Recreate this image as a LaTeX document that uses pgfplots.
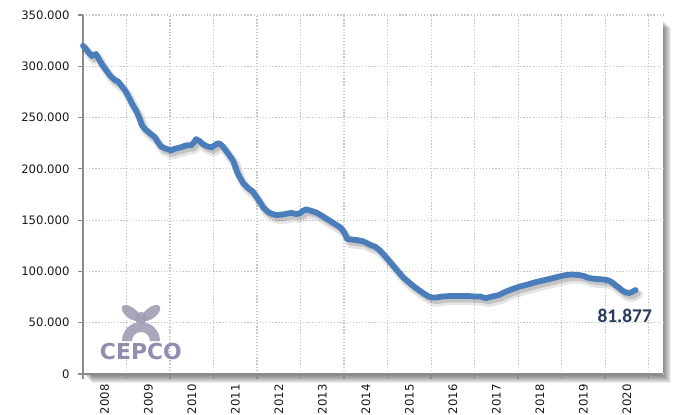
\documentclass[border=0pt]{standalone}
\usepackage{pgfplots}
\pgfplotsset{compat=1.18}
\usepackage{pgfplotstable}
\usepackage{fontspec}
\setmainfont{DejaVu Sans}
\newfontfamily\carlito{Carlito}
\definecolor{lineblue}{RGB}{74,126,187}
\definecolor{navy}{RGB}{38,60,94}
\definecolor{axgray}{RGB}{140,140,140}
\definecolor{gridgray}{RGB}{200,200,200}
\definecolor{logo}{RGB}{125,122,160}
\definecolor{logolight}{RGB}{160,158,180}

\pgfplotstableread{
x y
2008.00 320000
2008.05 318000
2008.12 314000
2008.20 310000
2008.24 311000
2008.30 312000
2008.39 305000
2008.50 298000
2008.62 291000
2008.72 287000
2008.81 285000
2008.90 280000
2008.96 277000
2009.05 270000
2009.12 264000
2009.23 256000
2009.30 249000
2009.35 243000
2009.42 239000
2009.50 236000
2009.65 231000
2009.72 226000
2009.80 221500
2009.92 219500
2010.03 218000
2010.10 219500
2010.15 220000
2010.25 221000
2010.38 223000
2010.49 223000
2010.55 226000
2010.60 229000
2010.68 227000
2010.76 224000
2010.85 222000
2010.95 221000
2011.03 223000
2011.10 225000
2011.16 224000
2011.22 221500
2011.35 214000
2011.45 208000
2011.55 196000
2011.68 186000
2011.80 181000
2011.90 178000
2011.98 173000
2012.06 168000
2012.15 162000
2012.25 158000
2012.35 156000
2012.44 155000
2012.60 155500
2012.70 156500
2012.79 157000
2012.90 156000
2012.98 156500
2013.05 159000
2013.13 160500
2013.25 159000
2013.36 157500
2013.50 154000
2013.67 149500
2013.80 146000
2013.93 142500
2014.00 138000
2014.08 131500
2014.20 131000
2014.30 130500
2014.43 129500
2014.60 126000
2014.72 124000
2014.81 121000
2014.92 116000
2015.04 110000
2015.20 102000
2015.35 94500
2015.50 89000
2015.60 85500
2015.73 81500
2015.85 78000
2015.95 75500
2016.03 74500
2016.11 74500
2016.25 75500
2016.42 76000
2016.60 76000
2016.75 76000
2016.88 76000
2017.00 75500
2017.14 75500
2017.20 74500
2017.26 74000
2017.40 75500
2017.56 77000
2017.70 80000
2017.85 82500
2018.02 85000
2018.20 87000
2018.40 89500
2018.60 91500
2018.80 93500
2018.94 95000
2019.10 96500
2019.25 97000
2019.40 96500
2019.51 95500
2019.60 94000
2019.71 93000
2019.85 92500
2020.00 92000
2020.09 91000
2020.17 89000
2020.24 86500
2020.32 84000
2020.39 81500
2020.48 79500
2020.55 79000
2020.62 80000
2020.70 81877
}\datatable

\begin{document}
\begin{tikzpicture}[x=1bp,y=1bp]
\useasboundingbox (-83,-40) rectangle (591,374);
% shadow of plot area
\foreach \d in {1,...,8}{
  \fill[black, opacity=0.07] (\d+1,-\d-1) rectangle (580+\d,359-5-\d);
}
\begin{axis}[
  at={(0,0)}, anchor=south west,
  scale only axis, width=580bp, height=359bp,
  xmin=2008, xmax=2021.33, ymin=0, ymax=350000,
  axis x line*=bottom, axis y line*=left,
  axis line style={draw=axgray, line width=1.8bp},
  axis background/.style={fill=white},
  xtick={2008,2009,...,2021}, xticklabels={},
  extra x ticks={2008.5,2009.5,2010.5,2011.5,2012.5,2013.5,2014.5,2015.5,2016.5,2017.5,2018.5,2019.5,2020.5},
  extra x tick labels={2008,2009,2010,2011,2012,2013,2014,2015,2016,2017,2018,2019,2020},
  extra x tick style={major tick length=0pt, grid=none,
     tick label style={rotate=90, anchor=east, xshift=-7bp}},
  ytick={0,50000,...,350000},
  yticklabels={0,50.000,100.000,150.000,200.000,250.000,300.000,350.000},
  scaled y ticks=false,
  tick label style={font=\fontsize{11.7}{13}\selectfont, text=black!90},
  yticklabel style={xshift=-5bp},
  tick align=outside, major tick length=5bp,
  tick style={draw=axgray, line width=1.2bp},
  grid=major,
  major grid style={draw=gridgray, line width=1.1bp, dash pattern=on 1.3bp off 1.8bp},
  clip=false,
]
% logo (decoration)
\node[font=\bfseries\fontsize{22}{24}\selectfont, text=logo, opacity=0.85, inner sep=0pt]
  at (axis cs:2009.33,21500) {CEPCO};
% line shadow
\addplot[black, opacity=0.10, line width=9bp, line join=round, line cap=round,
  transform canvas={xshift=3bp,yshift=-4.5bp}] table {\datatable};
\addplot[black, opacity=0.14, line width=5.5bp, line join=round, line cap=round,
  transform canvas={xshift=2.5bp,yshift=-3.5bp}] table {\datatable};
% main line
\addplot[lineblue, line width=5.8bp, line join=round, line cap=round] table {\datatable};
\node[font=\carlito\bfseries\fontsize{19.5}{21}\selectfont, text=navy]
  at (axis cs:2020.45,56500) {81.877};
\end{axis}
% emblem of the logo (decoration)
\begin{scope}[logolight, opacity=0.9]
  \fill[rotate around={-38:(48,61)}] (48,61) ellipse (11 and 5.5);
  \fill[rotate around={38:(68,61)}] (68,61) ellipse (11 and 5.5);
  \fill (58,56) circle (6);
  \fill[even odd rule] (39,33) arc (180:0:19) -- (67,33) arc (0:180:9) -- cycle;
\end{scope}
\end{tikzpicture}
\end{document}
